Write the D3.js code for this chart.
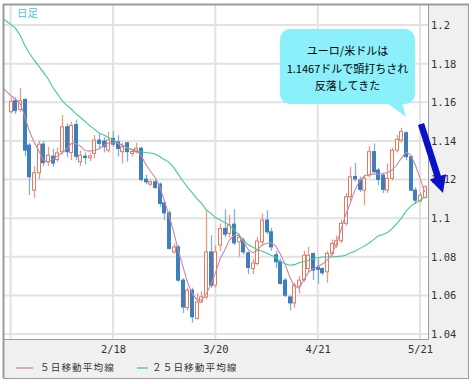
<!DOCTYPE html>
<html>
<head>
<meta charset="utf-8">
<script src="https://cdn.jsdelivr.net/npm/d3@7"></script>
<style>
    body { margin: 0; background: #fff; }
</style>
</head>
<body>
<svg id="chart" width="474" height="384"></svg>
<script>
// EUR/USD daily candles
const dates = [
    '1/19', '1/20', '1/21', '1/22', '1/23', '1/26', '1/27', '1/28', '1/29', '1/30',
    '2/2', '2/3', '2/4', '2/5', '2/6', '2/9', '2/10', '2/11', '2/12', '2/13',
    '2/16', '2/17', '2/18', '2/19', '2/20', '2/23', '2/24', '2/25', '2/26', '2/27',
    '3/2', '3/3', '3/4', '3/5', '3/6', '3/9', '3/10', '3/11', '3/12', '3/13',
    '3/16', '3/17', '3/18', '3/19', '3/20', '3/23', '3/24', '3/25', '3/26', '3/27',
    '3/30', '3/31', '4/1', '4/2', '4/3', '4/6', '4/7', '4/8', '4/9', '4/10',
    '4/13', '4/14', '4/15', '4/16', '4/17', '4/20', '4/21', '4/22', '4/23', '4/24',
    '4/27', '4/28', '4/29', '4/30', '5/1', '5/4', '5/5', '5/6', '5/7', '5/8',
    '5/11', '5/12', '5/13', '5/14', '5/15', '5/18', '5/19', '5/20', '5/21', '5/22'
]
const open = [
    1.1551, 1.1608, 1.1563, 1.1615, 1.1378, 1.1145, 1.1235, 1.1383, 1.1292, 1.1321,
    1.1304, 1.1344, 1.1473, 1.1340, 1.1485, 1.1292, 1.1321, 1.1312, 1.1335, 1.1404,
    1.1399, 1.1352, 1.1413, 1.1395, 1.1344, 1.1390, 1.1335, 1.1344, 1.1362, 1.1202,
    1.1176, 1.1188, 1.1176, 1.1079, 1.1027, 1.0825, 1.0851, 1.0679, 1.0537, 1.0627,
    1.0480, 1.0566, 1.0592, 1.0825, 1.0653, 1.0860, 1.0947, 1.0921, 1.0969, 1.0877,
    1.0886, 1.0820, 1.0739, 1.0765, 1.0877, 1.0990, 1.0929, 1.0810, 1.0774, 1.0679,
    1.0592, 1.0561, 1.0648, 1.0682, 1.0739, 1.0817, 1.0745, 1.0739, 1.0722, 1.0817,
    1.0860, 1.0883, 1.0973, 1.1111, 1.1216, 1.1197, 1.1145, 1.1223, 1.1344, 1.1249,
    1.1223, 1.1145, 1.1206, 1.1352, 1.1404, 1.1442, 1.1318, 1.1145, 1.1090, 1.1107
]
const high = [
    1.1622, 1.1625, 1.1674, 1.1620, 1.1390, 1.1270, 1.1400, 1.1400, 1.1370, 1.1360,
    1.1365, 1.1534, 1.1490, 1.1499, 1.1510, 1.1350, 1.1340, 1.1335, 1.1430, 1.1440,
    1.1420, 1.1447, 1.1450, 1.1430, 1.1390, 1.1395, 1.1360, 1.1390, 1.1370, 1.1225,
    1.1200, 1.1200, 1.1185, 1.1085, 1.1040, 1.0870, 1.0860, 1.0690, 1.0640, 1.0640,
    1.0613, 1.0620, 1.1041, 1.0912, 1.0860, 1.0973, 1.1045, 1.1016, 1.1047, 1.0920,
    1.0900, 1.0830, 1.0790, 1.0903, 1.1024, 1.1041, 1.0950, 1.0830, 1.0790, 1.0690,
    1.0600, 1.0665, 1.0700, 1.0830, 1.0851, 1.0820, 1.0790, 1.0745, 1.0830, 1.0890,
    1.0910, 1.0990, 1.1130, 1.1266, 1.1287, 1.1215, 1.1225, 1.1373, 1.1387, 1.1260,
    1.1235, 1.1283, 1.1365, 1.1430, 1.1467, 1.1450, 1.1325, 1.1160, 1.1135, 1.1170
]
const low = [
    1.1544, 1.1540, 1.1550, 1.1320, 1.1119, 1.1104, 1.1200, 1.1270, 1.1270, 1.1265,
    1.1290, 1.1330, 1.1315, 1.1300, 1.1300, 1.1270, 1.1280, 1.1295, 1.1309, 1.1360,
    1.1340, 1.1340, 1.1370, 1.1318, 1.1283, 1.1292, 1.1320, 1.1335, 1.1190, 1.1175,
    1.1165, 1.1150, 1.1059, 1.0990, 1.0838, 1.0815, 1.0670, 1.0509, 1.0520, 1.0458,
    1.0475, 1.0560, 1.0580, 1.0640, 1.0640, 1.0830, 1.0900, 1.0900, 1.0860, 1.0800,
    1.0810, 1.0710, 1.0710, 1.0755, 1.0860, 1.0915, 1.0830, 1.0740, 1.0655, 1.0590,
    1.0523, 1.0535, 1.0610, 1.0670, 1.0720, 1.0680, 1.0660, 1.0705, 1.0665, 1.0800,
    1.0845, 1.0870, 1.0960, 1.1090, 1.1190, 1.1135, 1.1067, 1.1210, 1.1230, 1.1170,
    1.1130, 1.1130, 1.1195, 1.1340, 1.1390, 1.1300, 1.1140, 1.1073, 1.1080, 1.1100
]
const close = [
    1.1603, 1.1557, 1.1608, 1.1352, 1.1214, 1.1235, 1.1383, 1.1287, 1.1326, 1.1285,
    1.1338, 1.1473, 1.1344, 1.1480, 1.1320, 1.1326, 1.1314, 1.1322, 1.1404, 1.1387,
    1.1370, 1.1404, 1.1383, 1.1361, 1.1370, 1.1344, 1.1345, 1.1362, 1.1200, 1.1188,
    1.1188, 1.1159, 1.1076, 1.1027, 1.0843, 1.0851, 1.0679, 1.0540, 1.0627, 1.0489,
    1.0566, 1.0592, 1.0825, 1.0653, 1.0825, 1.0947, 1.0917, 1.0964, 1.0872, 1.0900,
    1.0825, 1.0744, 1.0768, 1.0881, 1.0990, 1.0929, 1.0851, 1.0774, 1.0662, 1.0601,
    1.0561, 1.0653, 1.0679, 1.0808, 1.0808, 1.0731, 1.0735, 1.0717, 1.0817, 1.0869,
    1.0883, 1.0973, 1.1111, 1.1214, 1.1203, 1.1149, 1.1206, 1.1344, 1.1240, 1.1200,
    1.1149, 1.1206, 1.1352, 1.1408, 1.1448, 1.1318, 1.1145, 1.1093, 1.1119, 1.1162
]

// moving averages, starting two sessions before dates[0]
const maStart = -2
const ma5 = [
    1.1679, 1.1658, 1.1635, 1.1617, 1.1596, 1.1528, 1.1451, 1.1394, 1.1352, 1.1301,
    1.1290, 1.1303, 1.1321, 1.1337, 1.1358, 1.1386, 1.1386, 1.1373, 1.1350, 1.1347,
    1.1350, 1.1358, 1.1376, 1.1389, 1.1391, 1.1386, 1.1378, 1.1365, 1.1355, 1.1350,
    1.1326, 1.1280, 1.1244, 1.1212, 1.1166, 1.1093, 1.1016, 1.0933, 1.0834, 1.0751,
    1.0668, 1.0611, 1.0578, 1.0575, 1.0606, 1.0653, 1.0715, 1.0788, 1.0834, 1.0886,
    1.0912, 1.0909, 1.0878, 1.0839, 1.0821, 1.0832, 1.0860, 1.0870, 1.0873, 1.0855,
    1.0813, 1.0762, 1.0694, 1.0648, 1.0637, 1.0679, 1.0720, 1.0738, 1.0749, 1.0762,
    1.0782, 1.0813, 1.0865, 1.0938, 1.1016, 1.1078, 1.1145, 1.1192, 1.1218, 1.1225,
    1.1228, 1.1228, 1.1231, 1.1236, 1.1249, 1.1275, 1.1311, 1.1342, 1.1326, 1.1275,
    1.1207, 1.1135
]
const ma25 = [
    1.2036, 1.2021, 1.2003, 1.1984, 1.1948, 1.1896, 1.1855, 1.1819, 1.1788, 1.1756,
    1.1723, 1.1679, 1.1645, 1.1609, 1.1585, 1.1565, 1.1541, 1.1521, 1.1500, 1.1479,
    1.1461, 1.1440, 1.1430, 1.1417, 1.1404, 1.1391, 1.1378, 1.1365, 1.1355, 1.1347,
    1.1344, 1.1340, 1.1337, 1.1332, 1.1319, 1.1303, 1.1290, 1.1264, 1.1228, 1.1192,
    1.1161, 1.1132, 1.1101, 1.1078, 1.1044, 1.1026, 1.1003, 1.0990, 1.0977, 1.0964,
    1.0940, 1.0915, 1.0886, 1.0863, 1.0850, 1.0837, 1.0829, 1.0819, 1.0808, 1.0798,
    1.0775, 1.0764, 1.0756, 1.0759, 1.0769, 1.0775, 1.0782, 1.0790, 1.0795, 1.0799,
    1.0799, 1.0799, 1.0801, 1.0803, 1.0808, 1.0819, 1.0829, 1.0842, 1.0855, 1.0870,
    1.0889, 1.0907, 1.0915, 1.0925, 1.0946, 1.0972, 1.1000, 1.1036, 1.1062, 1.1078,
    1.1093, 1.1111
]

const yTicks = [1.04, 1.06, 1.08, 1.1, 1.12, 1.14, 1.16, 1.18, 1.2]
const gridDates = ['1/19', '2/18', '3/20', '4/21', '5/21']
const xTickDates = ['2/18', '3/20', '4/21', '5/21']
const legendNames = ['５日移動平均線', '２５日移動平均線']
const periodLabel = '日足'
const calloutLines = ['ユーロ/米ドルは', '1.1467ドルで頭打ちされ', '反落してきた']

const colors = {
    up: '#e57a61',
    upWick: '#ec9b88',
    down: '#3b7fbf',
    downWick: '#80b1da',
    ma5: '#c986a6',
    ma25: '#3fcc8e',
    grid: '#e2e2e2',
    frame: '#9c9c9c',
    panel: '#f0f0f0'
}

const svg = d3.select('#chart')
const plot = { left: 3, top: 4, right: 428, bottom: 339 }
const frame = { right: 468, bottom: 378 }

const x = d3.scaleLinear()
    .domain([0, dates.length - 1])
    .range([10.7, 424.7])
const y = d3.scaleLinear()
    .domain([1.04, 1.2])
    .range([334, 25])
const bodyW = 4

// frame + grey panels
svg.append('rect')
    .attr('x', plot.left + 0.5)
    .attr('y', plot.top + 0.5)
    .attr('width', frame.right - plot.left)
    .attr('height', frame.bottom - plot.top)
    .attr('fill', colors.panel)
    .attr('stroke', colors.frame)
svg.append('rect')
    .attr('x', plot.left + 1)
    .attr('y', plot.top + 1)
    .attr('width', plot.right - plot.left - 1)
    .attr('height', plot.bottom - plot.top - 1)
    .attr('fill', '#fff')

svg.append('clipPath')
    .attr('id', 'clip-plot')
    .append('rect')
    .attr('x', plot.left + 1)
    .attr('y', plot.top + 1)
    .attr('width', plot.right - plot.left - 1)
    .attr('height', plot.bottom - plot.top - 1)

// grid
const gGrid = svg.append('g').attr('class', 'grid')
gGrid.selectAll('line.h')
    .data(yTicks)
    .join('line')
    .attr('class', 'h')
    .attr('x1', plot.left)
    .attr('x2', plot.right)
    .attr('y1', d => y(d))
    .attr('y2', d => y(d))
    .attr('stroke', colors.grid)
    .attr('stroke-width', 2)
gGrid.selectAll('line.v')
    .data(gridDates)
    .join('line')
    .attr('class', 'v')
    .attr('x1', d => x(dates.indexOf(d)))
    .attr('x2', d => x(dates.indexOf(d)))
    .attr('y1', plot.top)
    .attr('y2', plot.bottom)
    .attr('stroke', colors.grid)
    .attr('stroke-width', 2)

const gPlot = svg.append('g').attr('clip-path', 'url(#clip-plot)')

// candles
const candles = dates.map((d, i) => ({ i, o: open[i], h: high[i], l: low[i], c: close[i] }))
const gCandle = gPlot.selectAll('g.candle')
    .data(candles)
    .join('g')
    .attr('class', 'candle')

gCandle.append('line')
    .attr('x1', d => Math.round(x(d.i)) + 0.5)
    .attr('x2', d => Math.round(x(d.i)) + 0.5)
    .attr('y1', d => y(d.h))
    .attr('y2', d => y(d.l))
    .attr('stroke', d => d.c >= d.o ? colors.upWick : colors.downWick)
    .attr('stroke-width', 1.3)

gCandle.append('rect')
    .attr('x', d => Math.round(x(d.i) - bodyW / 2) + 0.5)
    .attr('y', d => y(Math.max(d.o, d.c)))
    .attr('width', bodyW - 1)
    .attr('height', d => Math.max(1, y(Math.min(d.o, d.c)) - y(Math.max(d.o, d.c))))
    .attr('fill', d => d.c >= d.o ? '#fff' : colors.down)
    .attr('stroke', d => d.c >= d.o ? colors.up : colors.down)
    .attr('stroke-width', 1)

// moving averages
const maLine = d3.line()
    .x((d, k) => x(k + maStart))
    .y(d => y(d))

gPlot.append('path')
    .datum(ma25)
    .attr('d', maLine)
    .attr('fill', 'none')
    .attr('stroke', colors.ma25)
    .attr('stroke-width', 1.1)
gPlot.append('path')
    .datum(ma5)
    .attr('d', maLine)
    .attr('fill', 'none')
    .attr('stroke', colors.ma5)
    .attr('stroke-width', 1.1)

// plot borders
svg.append('path')
    .attr('d', `M${plot.right + 0.5},${plot.top}V${plot.bottom + 0.5}H${plot.left}`)
    .attr('fill', 'none')
    .attr('stroke', colors.frame)
svg.append('line')
    .attr('x1', plot.left + 0.5)
    .attr('x2', plot.left + 0.5)
    .attr('y1', plot.top)
    .attr('y2', frame.bottom)
    .attr('stroke', colors.frame)
    .attr('stroke-width', 2)
svg.append('line')
    .attr('x1', plot.left)
    .attr('x2', frame.right + 1)
    .attr('y1', plot.top + 0.5)
    .attr('y2', plot.top + 0.5)
    .attr('stroke', colors.frame)
    .attr('stroke-width', 2)

// axes
const yAxis = svg.append('g')
    .attr('transform', `translate(${plot.right},0)`)
    .call(d3.axisRight(y)
        .tickValues(yTicks)
        .tickSize(0)
        .tickPadding(3)
        .tickFormat(d => +d.toFixed(2)))
yAxis.select('.domain').remove()
yAxis.selectAll('text')
    .attr('font-family', 'DejaVu Sans Mono')
    .attr('font-size', 10.5)
    .attr('fill', '#333')

const xAxis = svg.append('g')
    .attr('transform', `translate(0,${plot.bottom})`)
    .call(d3.axisBottom(x)
        .tickValues(xTickDates.map(d => dates.indexOf(d)))
        .tickSize(0)
        .tickPadding(7)
        .tickFormat(i => dates[i]))
xAxis.select('.domain').remove()
xAxis.selectAll('text')
    .attr('font-family', 'DejaVu Sans Mono')
    .attr('font-size', 10.5)
    .attr('fill', '#333')

// legend
const legendX = [16, 137]
const legendColors = [colors.ma5, colors.ma25]
const gLegend = svg.append('g')
    .selectAll('g')
    .data(legendNames)
    .join('g')
    .attr('transform', (d, k) => `translate(${legendX[k]},368)`)
gLegend.append('line')
    .attr('x1', 0)
    .attr('x2', (d, k) => k === 0 ? 17 : 11)
    .attr('stroke', (d, k) => legendColors[k])
    .attr('stroke-width', 1.3)
gLegend.append('text')
    .attr('x', (d, k) => k === 0 ? 24 : 15)
    .attr('dy', '0.35em')
    .attr('font-family', 'Noto Sans CJK JP')
    .attr('font-size', 9.6)
    .attr('letter-spacing', 1.1)
    .attr('fill', '#333')
    .text(d => d)

// period label
svg.append('text')
    .attr('x', 17)
    .attr('y', 17)
    .attr('font-family', 'Noto Sans CJK JP')
    .attr('font-size', 10.5)
    .attr('fill', '#4cc3ee')
    .text(periodLabel)

// callout
const gCallout = svg.append('g')
gCallout.append('path')
    .attr('d', 'M383,100 L401,100 L406,117 Z')
    .attr('fill', '#8cf0fa')
gCallout.append('rect')
    .attr('x', 280)
    .attr('y', 29)
    .attr('width', 135)
    .attr('height', 75)
    .attr('rx', 10)
    .attr('fill', '#8cf0fa')
gCallout.selectAll('text')
    .data(calloutLines)
    .join('text')
    .attr('x', 347.5)
    .attr('y', (d, k) => 55 + k * 17.5)
    .attr('text-anchor', 'middle')
    .attr('font-family', 'Noto Sans CJK JP')
    .attr('font-size', 11)
    .attr('fill', '#000')
    .text(d => d)

// arrow
function arrowPath (x0, y0, x1, y1, shaftW, headW, headL) {
    const dx = x1 - x0
    const dy = y1 - y0
    const len = Math.hypot(dx, dy)
    const ux = dx / len
    const uy = dy / len
    const px = -uy
    const py = ux
    const bx = x1 - ux * headL
    const by = y1 - uy * headL
    const pts = [
        [x0 + px * shaftW / 2, y0 + py * shaftW / 2],
        [bx + px * shaftW / 2, by + py * shaftW / 2],
        [bx + px * headW / 2, by + py * headW / 2],
        [x1, y1],
        [bx - px * headW / 2, by - py * headW / 2],
        [bx - px * shaftW / 2, by - py * shaftW / 2],
        [x0 - px * shaftW / 2, y0 - py * shaftW / 2]
    ]
    return 'M' + pts.map(p => p.join(',')).join('L') + 'Z'
}
svg.append('path')
    .attr('d', arrowPath(421, 124, 443, 193, 6.5, 17, 17))
    .attr('fill', '#0a10c8')
</script>
</body>
</html>
